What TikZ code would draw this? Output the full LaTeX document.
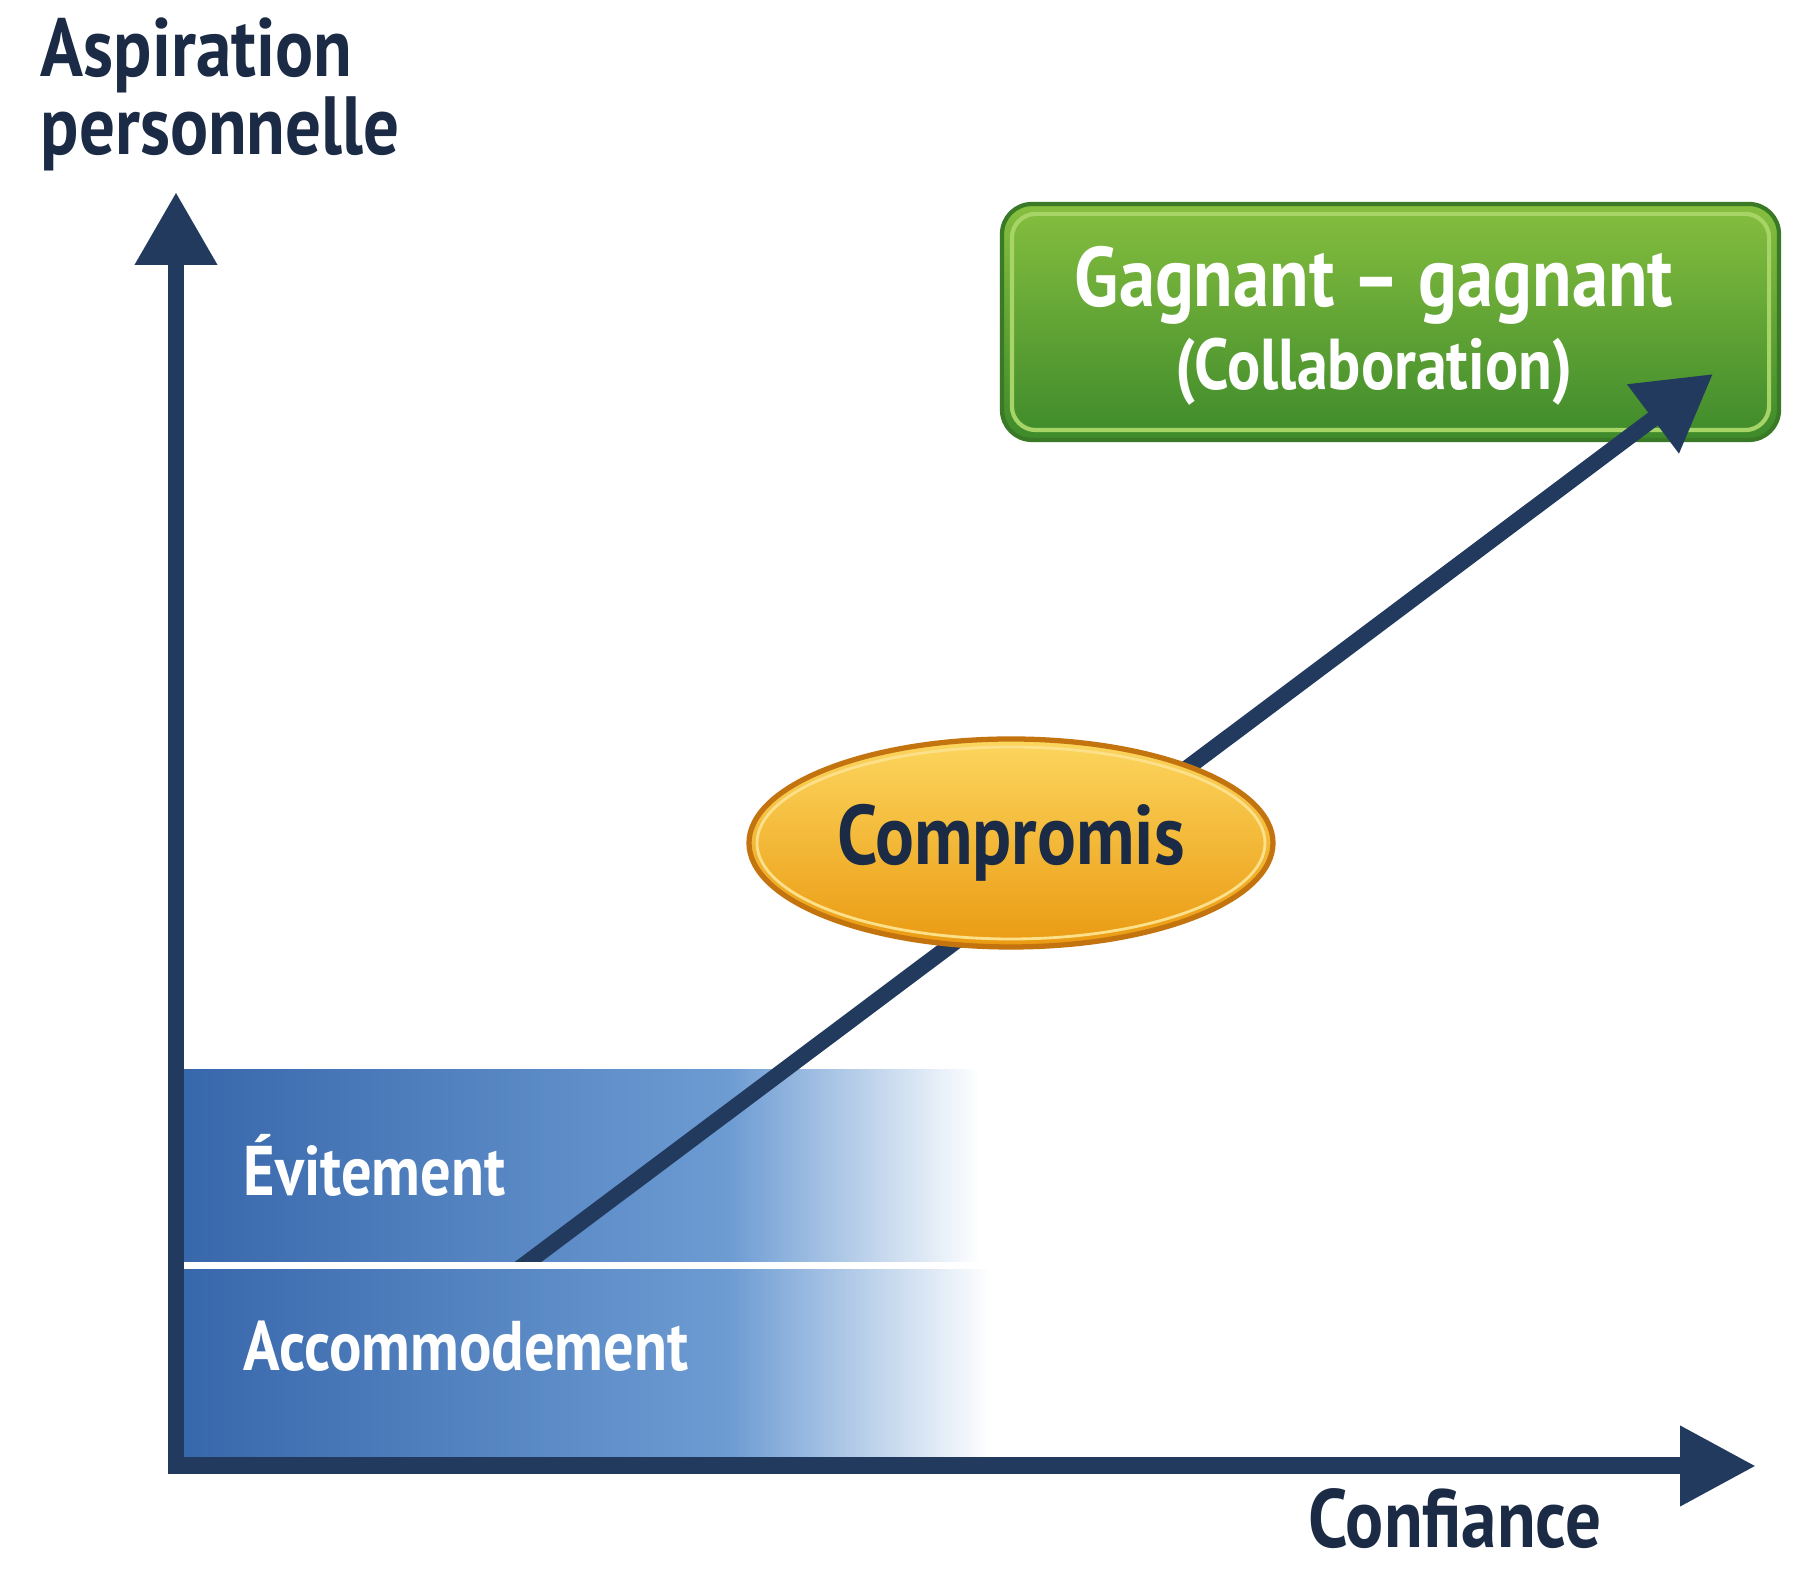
\documentclass[tikz,border=0pt]{standalone}
\usepackage{fontspec}
\setmainfont[FakeStretch=0.86]{PT Sans}
\usetikzlibrary{arrows.meta,shapes.geometric}

\definecolor{axisnavy}{HTML}{213A5E}
\definecolor{textnavy}{HTML}{1C2B45}
\definecolor{banddark}{HTML}{3767AB}
\definecolor{bandlight}{HTML}{6D9CD3}
\definecolor{wintop}{HTML}{86BF3F}
\definecolor{winbottom}{HTML}{3E8A2B}
\definecolor{winedge}{HTML}{3A7A26}
\definecolor{winrim}{HTML}{A6D466}
\definecolor{comptop}{HTML}{FCD65E}
\definecolor{compmid}{HTML}{F8BD2C}
\definecolor{compbottom}{HTML}{EA9A12}
\definecolor{compedge}{HTML}{C4740E}
\definecolor{comprim}{HTML}{FDE08A}

\begin{document}
\begin{tikzpicture}[
    axislabel/.style={font=\fontsize{23.5}{21}\selectfont\bfseries, text=textnavy, inner sep=0pt},
    bandlabel/.style={font=\fontsize{20}{24}\selectfont\bfseries, text=white, inner sep=0pt, anchor=base west},
    winbox/.style={rectangle, rounded corners=3mm, minimum width=7.77cm, minimum height=2.36cm,
        top color=wintop, bottom color=winbottom, draw=winedge, line width=1.2pt},
    wintext/.style={font=\fontsize{24}{23.6}\selectfont\bfseries, text=white, align=center, inner sep=0pt},
    compbox/.style={ellipse, minimum width=5.24cm, minimum height=2.08cm, inner sep=0pt,
        top color=comptop, middle color=compmid, bottom color=compbottom, draw=compedge, line width=1.5pt,
        text=textnavy, font=\fontsize{24}{24}\selectfont\bfseries},
    axisline/.style={axisnavy, line width=1.7mm}
]

    \fill[white] (0,0) rectangle (17.94,15.70);
    \useasboundingbox (0,0) rectangle (17.94,15.70);

    % blue bands
    \fill[left color=banddark, right color=bandlight] (1.76,3.08) rectangle (7.30,5.00);
    \fill[left color=bandlight, right color=white] (7.30,3.08) rectangle (9.80,5.00);
    \fill[left color=banddark, right color=bandlight] (1.76,1.04) rectangle (7.30,3.00);
    \fill[left color=bandlight, right color=white] (7.30,1.04) rectangle (9.90,3.00);

    % win-win box
    \node[winbox] (win) at (13.905,12.48) {};
    \draw[winrim, rounded corners=2.4mm, line width=1.2pt]
        ([shift={(1.2mm,1.2mm)}]win.south west) rectangle ([shift={(-1.2mm,-1.2mm)}]win.north east);
    \node[wintext] (wintxt) at (13.74,12.44) {Gagnant – gagnant\\{\fontsize{20.5}{20}\selectfont (Collaboration)}};

    % rising arrow
    \coordinate (rise) at (5.04,2.90);
    \coordinate (peak) at (17.13,11.96);
    \begin{scope}
        \clip (0,3.08) rectangle (17.94,15.70);
        \draw[axisnavy, line width=1.6mm, -{Triangle[length=7.5mm,width=8.2mm]}] (rise) -- (peak);
    \end{scope}

    \node[compbox] (comp) at (10.11,7.27) {Compromis};
    \draw[comprim, line width=0.8pt] (comp.center) ellipse [x radius=2.54cm, y radius=0.96cm];

    % axes
    \coordinate (origin) at (1.76,1.04);
    \coordinate (ytip) at (1.76,13.78);
    \coordinate (xtip) at (17.56,1.04);
    \draw[axisline, {Triangle[length=7.3mm,width=7.8mm]}-{Triangle[length=7.6mm,width=7.6mm]}]
        (ytip) -- (origin) -- (xtip);

    \node[axislabel, anchor=north west, align=left] (ylab) at (0.40,15.53) {Aspiration\\personnelle};
    \node[axislabel, anchor=base west] (xlab) at (13.08,0.22) {Confiance};

    \node[bandlabel] (avoid) at (2.43,3.74) {Évitement};
    \node[bandlabel] (accom) at (2.43,1.99) {Accommodement};

\end{tikzpicture}
\end{document}
